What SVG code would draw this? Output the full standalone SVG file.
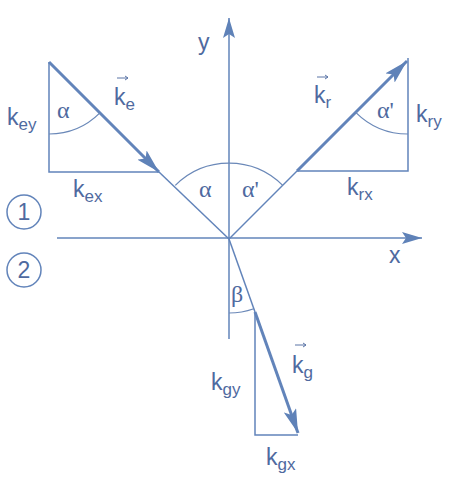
<svg xmlns="http://www.w3.org/2000/svg" width="451" height="478" viewBox="0 0 451 478">
<style>
.ln{stroke:#6284ba;stroke-width:1.5;fill:none}
.th{stroke:#6284ba;stroke-width:3;fill:none}
.arc{stroke:#6a88b8;stroke-width:1.2;fill:none}
.vec{stroke:#5a74a6;stroke-width:1;fill:none}
.t{font-family:"Liberation Sans",Arial,sans-serif;font-size:23px;fill:#4f6aa0}
.s{font-size:17px}
.g{font-family:"Liberation Serif","Times New Roman",serif;font-size:24px;fill:#4f6aa0}
</style>
<defs>
<marker id="ah" markerUnits="userSpaceOnUse" viewBox="0 0 24 13" refX="24" refY="6.5" markerWidth="24" markerHeight="13" orient="auto">
<path d="M0,0 L24,6.5 L0,13 L5,6.5 Z" fill="#5f82b8"/>
</marker>
<marker id="ax" markerUnits="userSpaceOnUse" viewBox="0 0 20 12" refX="20" refY="6" markerWidth="20" markerHeight="12" orient="auto">
<path d="M0,0 L20,6 L0,12 L4,6 Z" fill="#5f82b8"/>
</marker>
</defs>
<rect width="451" height="478" fill="#ffffff"/>
<g id="connectors">
<line id="x-axis" class="ln" x1="57" y1="238" x2="422" y2="238" marker-end="url(#ax)"/>
<line id="y-axis" class="ln" x1="229" y1="339" x2="229" y2="18" marker-end="url(#ax)"/>
<line id="ke" class="th" x1="49" y1="62" x2="159" y2="172" marker-end="url(#ah)"/>
<line class="ln" x1="159" y1="172" x2="229" y2="239"/>
<line class="ln" x1="229" y1="239" x2="297" y2="171"/>
<line id="kr" class="th" x1="297" y1="171" x2="407" y2="61" marker-end="url(#ah)"/>
<line class="ln" x1="229" y1="239" x2="255" y2="312"/>
<line id="kg" class="th" x1="255" y1="312" x2="298" y2="433" marker-end="url(#ah)"/>
</g>
<g id="triangle-e">
<path class="ln" d="M49,62 V172 H159"/>
<path class="arc" d="M49,134 A72,72 0 0,0 99.9,112.9"/>
</g>
<g id="triangle-r">
<path class="ln" d="M297,171 H408 V58"/>
<path class="arc" d="M408,134 A74,74 0 0,1 355.7,112.3"/>
</g>
<g id="triangle-g">
<path class="ln" d="M255,312 V435 H298"/>
</g>
<g id="angles">
<path class="arc" d="M175.3,185.3 A76,76 0 0,1 282.7,185.3"/>
<path class="arc" d="M229,313 A74,74 0 0,0 253.8,308.7"/>
</g>
<g id="labels">
<text class="t" x="198" y="50">y</text>
<text class="t" x="389" y="263">x</text>
<text class="t" x="7" y="125">k<tspan class="s" dy="5">ey</tspan></text>
<text class="t" x="114" y="105">k<tspan class="s" dy="5">e</tspan></text>
<path class="vec" d="M117,78 h11 M125,76 l3,2 l-3,2"/>
<text class="t" x="73" y="197">k<tspan class="s" dy="5">ex</tspan></text>
<text class="t" x="314" y="103">k<tspan class="s" dy="5">r</tspan></text>
<path class="vec" d="M317,77 h11 M325,75 l3,2 l-3,2"/>
<text class="t" x="416" y="122">k<tspan class="s" dy="5">ry</tspan></text>
<text class="t" x="347" y="195">k<tspan class="s" dy="5">rx</tspan></text>
<text class="t" x="292" y="373">k<tspan class="s" dy="5">g</tspan></text>
<path class="vec" d="M295,345 h11 M303,343 l3,2 l-3,2"/>
<text class="t" x="211" y="390">k<tspan class="s" dy="5">gy</tspan></text>
<text class="t" x="266" y="465">k<tspan class="s" dy="5">gx</tspan></text>
<text class="g" x="57" y="118">α</text>
<text class="g" x="199" y="197">α</text>
<text class="g" x="242" y="197">α'</text>
<text class="g" x="377" y="118">α'</text>
<text class="g" x="231" y="302">β</text>
</g>
<g id="medium-1">
<circle class="ln" cx="24" cy="212" r="17"/>
<text class="t" x="24" y="220" text-anchor="middle">1</text>
</g>
<g id="medium-2">
<circle class="ln" cx="24" cy="270" r="17"/>
<text class="t" x="24" y="278" text-anchor="middle">2</text>
</g>
</svg>
